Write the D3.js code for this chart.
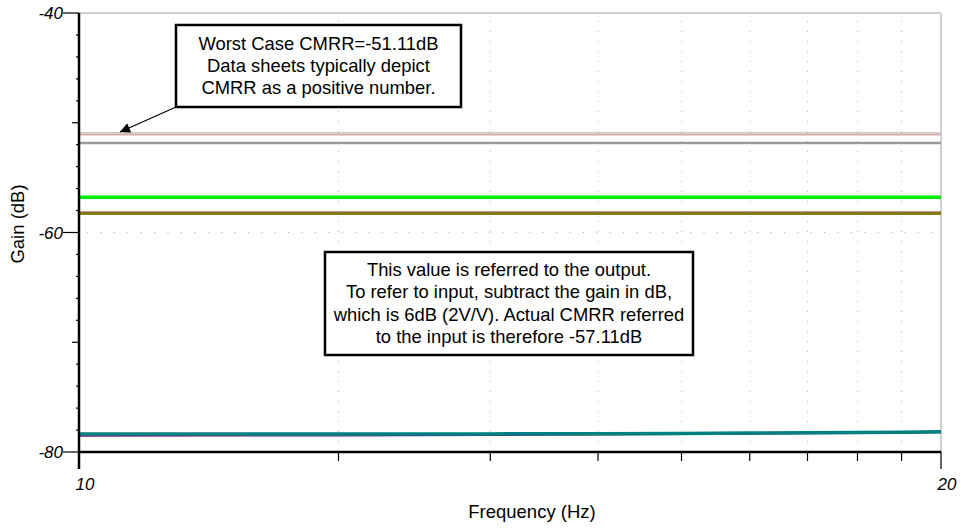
<!DOCTYPE html>
<html><head><meta charset="utf-8">
<script src="https://cdn.jsdelivr.net/npm/d3@7"></script>
<style>body{margin:0;background:#fff}svg{display:block;font-family:"Liberation Sans",Arial,sans-serif}</style>
</head><body><svg id="c" width="961" height="529"></svg>
<script>
// ---- data ----
const freqs = [10, 20, 30, 40, 50, 60, 70, 80, 90, 100];
const seriesNames = ["lightRose", "rose", "gray", "green", "brown", "olive", "purple", "teal"];
const seriesColors = ["#d3cbcb", "#d49a9a", "#9a9a9a", "#00ee00", "#8b4a2a", "#858000", "#7a1a8a", "#008080"];
const seriesWidths = [3, 1, 2.5, 3.5, 1.5, 2.5, 2, 3.5];
const lightRose = [-50.98, -50.98, -50.98, -50.98, -50.98, -50.98, -50.98, -50.98, -50.98, -50.98];
const rose = [-51.11, -51.11, -51.11, -51.11, -51.11, -51.11, -51.11, -51.11, -51.11, -51.11];
const gray = [-51.85, -51.85, -51.85, -51.85, -51.85, -51.85, -51.85, -51.85, -51.85, -51.85];
const green = [-56.78, -56.78, -56.78, -56.78, -56.78, -56.78, -56.78, -56.78, -56.78, -56.78];
const brown = [-58.15, -58.15, -58.15, -58.15, -58.15, -58.15, -58.15, -58.15, -58.15, -58.15];
const olive = [-58.3, -58.3, -58.3, -58.3, -58.3, -58.3, -58.3, -58.3, -58.3, -58.3];
const purple = [-78.52, -78.5, -78.45, -78.4, -78.36, -78.33, -78.3, -78.27, -78.24, -78.2];
const teal = [-78.37, -78.36, -78.35, -78.33, -78.31, -78.28, -78.25, -78.22, -78.19, -78.16];
const allSeries = [lightRose, rose, gray, green, brown, olive, purple, teal];
const xMinorTicks = [20, 30, 40, 50, 60, 70, 80, 90];
const xTickLabels = ["10", "20"];
const yMajorTicks = [-40, -60, -80];
const yMediumTicks = [-50, -70];
const yMinorTicks = [-42, -44, -46, -48, -52, -54, -56, -58, -62, -64, -66, -68, -72, -74, -76, -78];
const yTickLabels = ["-40", "-60", "-80"];
const xTitle = "Frequency (Hz)";
const yTitle = "Gain (dB)";
const note1 = ["Worst Case CMRR=-51.11dB", "Data sheets typically depict", "CMRR as a positive number."];
const note2 = ["This value is referred to the output.", "To refer to input, subtract the gain in dB,", "which is 6dB (2V/V). Actual CMRR referred", "to the input is therefore -57.11dB"];

// ---- chart ----
const svg = d3.select("#c");
const L = 79, R = 941, T = 13, B = 452;
const x = d3.scaleLog().domain([10, 100]).range([L, R]);
const y = d3.scaleLinear().domain([-80, -40]).range([B, T]);

// gridlines
svg.append("g").selectAll("line").data(xMinorTicks).join("line")
  .attr("x1", d => x(d)).attr("x2", d => x(d)).attr("y1", T + 8).attr("y2", B)
  .attr("stroke", "#b8b8b8").attr("stroke-width", 1).attr("stroke-dasharray", "1,9");
svg.append("line").attr("x1", L + 8).attr("x2", R).attr("y1", y(-60)).attr("y2", y(-60))
  .attr("stroke", "#b8b8b8").attr("stroke-width", 1.2).attr("stroke-dasharray", "1.2,12.2");
// top and right frame
svg.append("line").attr("x1", L).attr("x2", R).attr("y1", y(-40)).attr("y2", y(-40)).attr("stroke", "#cfcfcf").attr("stroke-width", 2);
svg.append("line").attr("x1", R).attr("x2", R).attr("y1", T).attr("y2", B).attr("stroke", "#cfcfcf").attr("stroke-width", 2);

// series
const line = d3.line().x((d, i) => x(freqs[i])).y(d => y(d));
svg.append("g").selectAll("path").data(allSeries).join("path")
  .attr("d", d => line(d)).attr("fill", "none")
  .attr("stroke", (d, i) => seriesColors[i]).attr("stroke-width", (d, i) => seriesWidths[i]);

// axes
const yAxis = svg.append("g");
yAxis.append("line").attr("x1", L).attr("x2", L).attr("y1", T).attr("y2", B + 17).attr("stroke", "#000").attr("stroke-width", 2.5);
yAxis.selectAll(".mj").data(yMajorTicks).join("line").attr("x1", L - 16).attr("x2", L).attr("y1", d => y(d)).attr("y2", d => y(d)).attr("stroke", "#000").attr("stroke-width", 1.2);
yAxis.selectAll(".md").data(yMediumTicks).join("line").attr("x1", L - 7).attr("x2", L).attr("y1", d => y(d)).attr("y2", d => y(d)).attr("stroke", "#000").attr("stroke-width", 1.2);
yAxis.selectAll(".mn").data(yMinorTicks).join("line").attr("x1", L - 3).attr("x2", L).attr("y1", d => y(d)).attr("y2", d => y(d)).attr("stroke", "#000").attr("stroke-width", 1.2);
yAxis.selectAll("text").data(yMajorTicks).join("text")
  .attr("x", L - 16).attr("y", d => y(d) + 6).attr("text-anchor", "end")
  .attr("font-size", 17).attr("font-style", "italic").text((d, i) => yTickLabels[i]);

const xAxis = svg.append("g");
xAxis.append("line").attr("x1", L).attr("x2", R).attr("y1", B).attr("y2", B).attr("stroke", "#000").attr("stroke-width", 2.5);
xAxis.selectAll(".mn").data(xMinorTicks).join("line").attr("x1", d => x(d)).attr("x2", d => x(d)).attr("y1", B).attr("y2", B + 9).attr("stroke", "#000").attr("stroke-width", 1.2);
xAxis.append("line").attr("x1", R).attr("x2", R).attr("y1", B).attr("y2", B + 17).attr("stroke", "#000").attr("stroke-width", 1.2);
xAxis.selectAll("text").data(x.domain()).join("text")
  .attr("x", (d, i) => x(d) + (i === 0 ? 6 : 6)).attr("y", 490).attr("text-anchor", "middle")
  .attr("font-size", 17).attr("font-style", "italic").text((d, i) => xTickLabels[i]);

svg.append("text").attr("x", 532).attr("y", 518).attr("text-anchor", "middle").attr("font-size", 18.5).text(xTitle);
svg.append("text").attr("transform", "translate(24,224) rotate(-90)").attr("text-anchor", "middle").attr("font-size", 18.5).text(yTitle);

// annotations
function box(x0, y0, w, h, lines, lineH, firstY) {
  const g = svg.append("g");
  g.append("rect").attr("x", x0).attr("y", y0).attr("width", w).attr("height", h).attr("fill", "#fff").attr("stroke", "#000").attr("stroke-width", 2.5);
  g.selectAll("text").data(lines).join("text").attr("x", x0 + w / 2).attr("y", (d, i) => firstY + i * lineH)
    .attr("text-anchor", "middle").attr("font-size", 18.4).text(d => d);
}
// arrow
svg.append("defs").append("marker").attr("id", "ah").attr("viewBox", "0 0 10 10").attr("refX", 10).attr("refY", 5)
  .attr("markerWidth", 13).attr("markerHeight", 10).attr("markerUnits", "userSpaceOnUse").attr("orient", "auto")
  .append("path").attr("d", "M0,0L10,5L0,10Z").attr("fill", "#000");
svg.append("line").attr("x1", 176).attr("x2", 120).attr("y1", 107).attr("y2", 132).attr("stroke", "#000").attr("stroke-width", 1.2).attr("marker-end", "url(#ah)");
box(176, 25, 285, 82, note1, 22, 50);
box(325, 252, 368, 103, note2, 22.3, 276);
</script></body></html>
